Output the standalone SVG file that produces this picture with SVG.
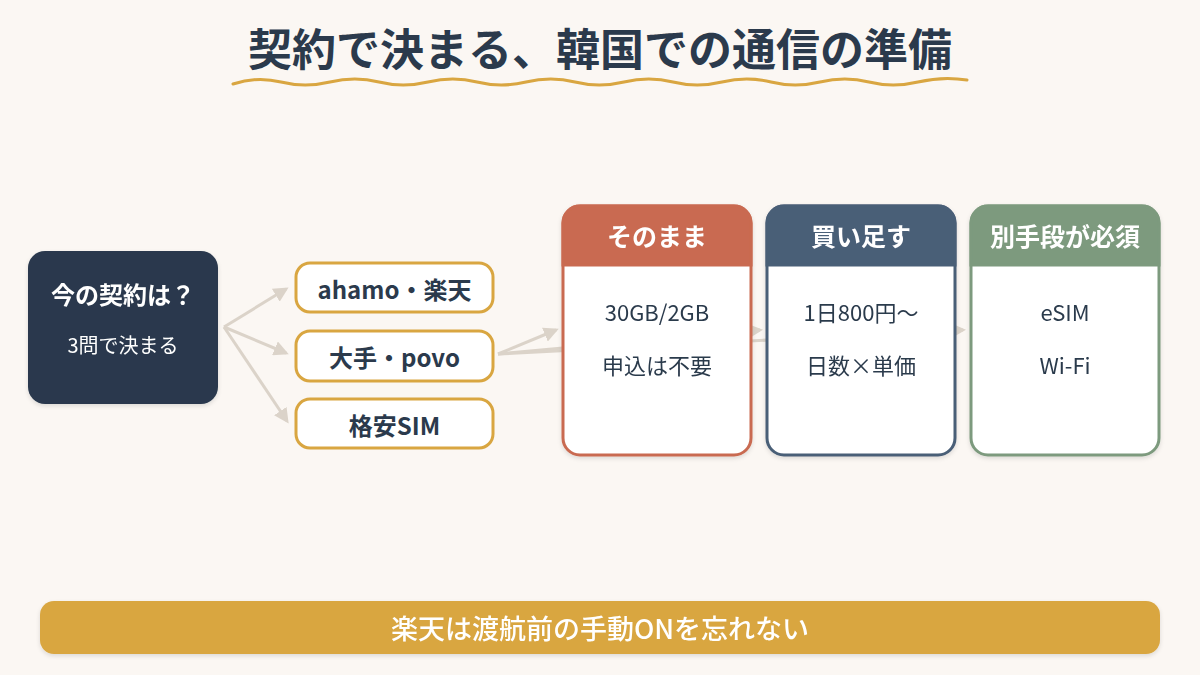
<svg xmlns="http://www.w3.org/2000/svg" width="1200" height="675" viewBox="0 0 1200 675">
<defs>
<style>
text{font-family:"Noto Sans CJK JP","Noto Sans",sans-serif;text-anchor:middle;dominant-baseline:central}
.title{font-size:44px;font-weight:700;fill:#2b3a4c}
.h{font-size:25px;font-weight:700;fill:#fff}
.pill rect{fill:#fff;stroke:#d9a641;stroke-width:3}
.pill text{font-size:24px;font-weight:700;fill:#2b3a4c}
.body{font-size:22px;fill:#2b3a4c}
.conn{stroke:#dbd3c9;stroke-width:3;fill:none;marker-end:url(#ah)}
</style>
<marker id="ah" viewBox="0 0 10 10" refX="8" refY="5" markerWidth="5" markerHeight="5" orient="auto" markerUnits="strokeWidth">
<path d="M0,0 L10,5 L0,10 z" fill="#dbd3c9"/>
</marker>
<filter id="sh" x="-10%" y="-10%" width="120%" height="130%">
<feDropShadow dx="0" dy="2" stdDeviation="2" flood-color="#000" flood-opacity="0.12"/>
</filter>
</defs>
<rect width="1200" height="675" fill="#fbf7f3"/>
<g id="title">
<text class="title" x="600" y="47">契約で決まる、韓国での通信の準備</text>
<path d="M233,84 Q257,76 281,82 T330,82 T379,82 T428,82 T477,82 T526,82 T575,82 T624,82 T673,82 T722,82 T771,82 T820,82 T869,82 T918,82 T967,80" fill="none" stroke="#d9a641" stroke-width="3" stroke-linecap="round"/>
</g>
<g id="connectors">
<line class="conn" x1="224" y1="327" x2="286" y2="289"/>
<line class="conn" x1="224" y1="327" x2="286" y2="353"/>
<line class="conn" x1="224" y1="327" x2="287" y2="421"/>
<line class="conn" x1="498" y1="354" x2="556" y2="330"/>
<line class="conn" x1="498" y1="354" x2="760" y2="330"/>
<line class="conn" x1="498" y1="354" x2="963" y2="330"/>
</g>
<g id="start" filter="url(#sh)">
<rect x="28" y="251" width="190" height="153" rx="17" fill="#2a394d"/>
<text x="123" y="293" style="font-size:24px;font-weight:700;fill:#fff">今の契約は？</text>
<text x="123" y="344" style="font-size:20px;fill:#fff">3問で決まる</text>
</g>
<g id="pill1" class="pill">
<rect x="296" y="263" width="197" height="49" rx="14"/>
<text x="394.5" y="288">ahamo・楽天</text>
</g>
<g id="pill2" class="pill">
<rect x="296" y="331" width="197" height="50" rx="14"/>
<text x="394.5" y="356">大手・povo</text>
</g>
<g id="pill3" class="pill">
<rect x="296" y="399" width="197" height="49" rx="14"/>
<text x="394.5" y="424">格安SIM</text>
</g>
<g id="card1" filter="url(#sh)">
<rect x="563" y="206" width="188" height="249" rx="17" fill="#fff" stroke="#c96b51" stroke-width="3"/>
<path d="M563,265 V223 A17,17 0 0 1 580,206 H734 A17,17 0 0 1 751,223 V265 Z" fill="#c96b51" stroke="#c96b51" stroke-width="3"/>
<text class="h" x="657" y="235">そのまま</text>
<text class="body" x="657" y="311">30GB/2GB</text>
<text class="body" x="657" y="364">申込は不要</text>
</g>
<g id="card2" filter="url(#sh)">
<rect x="767" y="206" width="188" height="249" rx="17" fill="#fff" stroke="#4a5e77" stroke-width="3"/>
<path d="M767,265 V223 A17,17 0 0 1 784,206 H938 A17,17 0 0 1 955,223 V265 Z" fill="#4a5e77" stroke="#4a5e77" stroke-width="3"/>
<text class="h" x="861" y="235">買い足す</text>
<text class="body" x="861" y="311">1日800円〜</text>
<text class="body" x="861" y="364">日数×単価</text>
</g>
<g id="card3" filter="url(#sh)">
<rect x="971" y="206" width="188" height="249" rx="17" fill="#fff" stroke="#7d9a7e" stroke-width="3"/>
<path d="M971,265 V223 A17,17 0 0 1 988,206 H1142 A17,17 0 0 1 1159,223 V265 Z" fill="#7d9a7e" stroke="#7d9a7e" stroke-width="3"/>
<text class="h" x="1065" y="235">別手段が必須</text>
<text class="body" x="1065" y="311">eSIM</text>
<text class="body" x="1065" y="364">Wi-Fi</text>
</g>
<g id="banner" filter="url(#sh)">
<rect x="40" y="601" width="1120" height="53" rx="14" fill="#d9a641"/>
<text x="600" y="627" style="font-size:27px;font-weight:500;fill:#fff">楽天は渡航前の手動ONを忘れない</text>
</g>
</svg>
